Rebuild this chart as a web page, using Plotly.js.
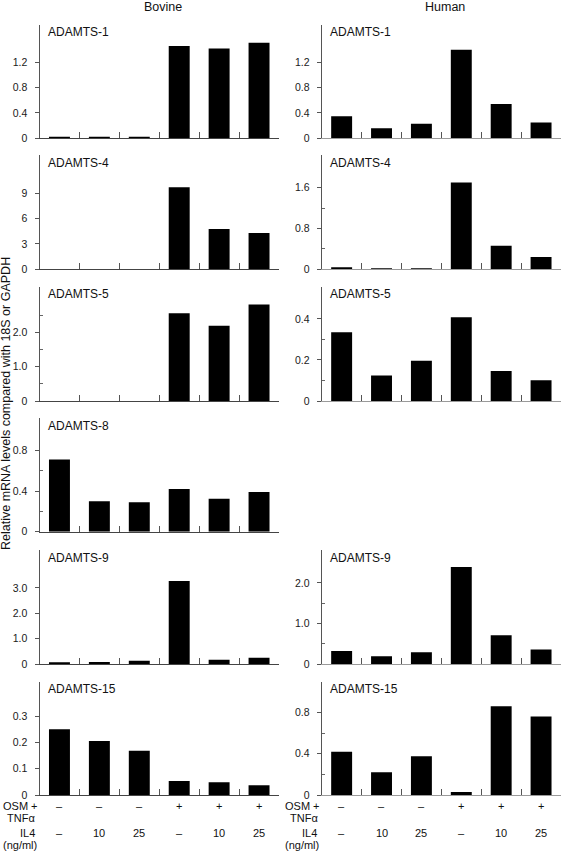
<!DOCTYPE html>
<html><head><meta charset="utf-8">
<script src="https://cdn.plot.ly/plotly-3.0.1.min.js"></script>
<style>html,body{margin:0;padding:0;background:#fff}#chart{width:562px;height:852px}</style>
</head><body><div id="chart"></div>
<script>
// ---------- data ----------
const categories = ['OSM-/IL4-', 'OSM-/IL4 10', 'OSM-/IL4 25', 'OSM+/IL4-', 'OSM+/IL4 10', 'OSM+/IL4 25'];
const osmTnfLabels = ['–', '–', '–', '+', '+', '+'];
const il4Labels = ['–', '10', '25', '–', '10', '25'];
const columnTitles = ['Bovine', 'Human'];
const genes = ['ADAMTS-1', 'ADAMTS-4', 'ADAMTS-5', 'ADAMTS-8', 'ADAMTS-9', 'ADAMTS-15'];

const bovineA1 = [0.025, 0.025, 0.025, 1.46, 1.42, 1.51];
const bovineA4 = [0, 0, 0, 9.7, 4.75, 4.3];
const bovineA5 = [0, 0, 0, 2.56, 2.19, 2.81];
const bovineA8 = [0.71, 0.30, 0.29, 0.42, 0.325, 0.39];
const bovineA9 = [0.066, 0.08, 0.13, 3.27, 0.17, 0.25];
const bovineA15 = [0.25, 0.205, 0.168, 0.053, 0.048, 0.037];

const humanA1 = [0.35, 0.16, 0.23, 1.40, 0.54, 0.25];
const humanA4 = [0.04, 0.02, 0.02, 1.70, 0.46, 0.24];
const humanA5 = [0.335, 0.124, 0.196, 0.408, 0.146, 0.101];
const humanA9 = [0.32, 0.19, 0.29, 2.39, 0.71, 0.36];
const humanA15 = [0.42, 0.22, 0.375, 0.03, 0.86, 0.76];

// y tick values / labels per panel
const ticksA1 = [0, 0.4, 0.8, 1.2], textA1 = ['0', '0.4', '0.8', '1.2'];
const ticksBA4 = [0, 3, 6, 9], textBA4 = ['0', '3', '6', '9'];
const ticksBA5 = [0, 1, 2], textBA5 = ['0', '1.0', '2.0'];
const ticksBA8 = [0, 0.4, 0.8], textBA8 = ['0', '0.4', '0.8'];
const ticksBA9 = [0, 1, 2, 3], textBA9 = ['0', '1.0', '2.0', '3.0'];
const ticksBA15 = [0, 0.1, 0.2, 0.3], textBA15 = ['0', '0.1', '0.2', '0.3'];
const ticksHA4 = [0, 0.8, 1.6], textHA4 = ['0', '0.8', '1.6'];
const ticksHA5 = [0, 0.2, 0.4], textHA5 = ['0', '0.2', '0.4'];
const ticksHA9 = [0, 1, 2], textHA9 = ['0', '1.0', '2.0'];
const ticksHA15 = [0, 0.4, 0.8], textHA15 = ['0', '0.4', '0.8'];

// ---------- layout geometry ----------
const W = 562, H = 852;
const colX = [[39.5, 279], [321.7, 561]];
const rowY = [[25, 138.3], [155, 269.3], [286.7, 401], [418.3, 531.7], [550, 664], [681.5, 795]];
const fx = px => px / W;
const fy = px => 1 - px / H;

const panels = [
  {col: 0, row: 0, y: bovineA1, top: 1.79, tv: ticksA1, tt: textA1, minor: []},
  {col: 0, row: 1, y: bovineA4, top: 13.5, tv: ticksBA4, tt: textBA4, minor: []},
  {col: 0, row: 2, y: bovineA5, top: 3.33, tv: ticksBA5, tt: textBA5, minor: [0.5, 1.5, 2.5]},
  {col: 0, row: 3, y: bovineA8, top: 1.115, tv: ticksBA8, tt: textBA8, minor: [0.2, 0.6]},
  {col: 0, row: 4, y: bovineA9, top: 4.49, tv: ticksBA9, tt: textBA9, minor: []},
  {col: 0, row: 5, y: bovineA15, top: 0.431, tv: ticksBA15, tt: textBA15, minor: []},
  {col: 1, row: 0, y: humanA1, top: 1.79, tv: ticksA1, tt: textA1, minor: []},
  {col: 1, row: 1, y: humanA4, top: 2.24, tv: ticksHA4, tt: textHA4, minor: [0.4, 1.2]},
  {col: 1, row: 2, y: humanA5, top: 0.557, tv: ticksHA5, tt: textHA5, minor: [0.1, 0.3]},
  {col: 1, row: 4, y: humanA9, top: 2.81, tv: ticksHA9, tt: textHA9, minor: [0.5, 1.5]},
  {col: 1, row: 5, y: humanA15, top: 1.10, tv: ticksHA15, tt: textHA15, minor: [0.2, 0.6]}
];

const FONT = 'Liberation Sans, Arial, Helvetica, sans-serif';
const data = [];
const layout = {
  width: W, height: H,
  margin: {l: 0, r: 0, t: 0, b: 0},
  paper_bgcolor: '#fff', plot_bgcolor: 'rgba(0,0,0,0)',
  showlegend: false, bargap: 0.475,
  font: {family: FONT, color: '#1a1a1a', size: 10},
  annotations: []
};

panels.forEach((p, i) => {
  const n = i + 1;
  const xa = 'x' + n, ya = 'y' + n;
  data.push({
    type: 'bar', x: categories, y: p.y, xaxis: xa, yaxis: ya,
    marker: {color: '#000', line: {width: 0}}, hoverinfo: 'skip'
  });
  const xLineColor = p.col === 0 ? '#444' : '#9a9a9a';
  layout['xaxis' + n] = {
    domain: [fx(colX[p.col][0]), fx(colX[p.col][1])],
    anchor: ya, type: 'category', range: [-0.5, 5.5],
    showline: true, linecolor: xLineColor, linewidth: 1,
    ticks: 'inside', tickson: 'boundaries', ticklen: 6, tickcolor: '#555', tickwidth: 1,
    showticklabels: false, showgrid: false, zeroline: false, fixedrange: true
  };
  const yax = {
    domain: [fy(rowY[p.row][1]), fy(rowY[p.row][0])],
    anchor: xa, range: [0, p.top],
    showline: true, linecolor: '#555', linewidth: 1,
    tickmode: 'array', tickvals: p.tv, ticktext: p.tt,
    ticks: 'outside', ticklen: 4, tickcolor: '#555', tickwidth: 1,
    ticklabelstandoff: 5,
    tickfont: {family: FONT, size: 10.5, color: '#1a1a1a'},
    showgrid: false, zeroline: false, fixedrange: true
  };
  if (p.minor.length) {
    yax.minor = {tickmode: 'array', tickvals: p.minor, ticks: 'inside', ticklen: 3, tickcolor: '#666', tickwidth: 1, showgrid: false};
  }
  layout['yaxis' + n] = yax;
  layout.annotations.push({
    text: genes[p.row], xref: 'paper', yref: 'paper',
    x: fx(colX[p.col][0] + 6), y: fy(rowY[p.row][0] + 7.5),
    xanchor: 'left', yanchor: 'middle', showarrow: false,
    font: {family: FONT, size: 12, color: '#111'}
  });
});

// column titles
[162.5, 445].forEach((cx, c) => {
  layout.annotations.push({
    text: columnTitles[c], xref: 'paper', yref: 'paper', x: fx(cx), y: fy(7),
    xanchor: 'center', yanchor: 'middle', showarrow: false,
    font: {family: FONT, size: 12.5, color: '#111'}
  });
});

// y axis title
layout.annotations.push({
  text: 'Relative mRNA levels compared with 18S or GAPDH', xref: 'paper', yref: 'paper',
  x: fx(6), y: fy(404), textangle: -90, xanchor: 'center', yanchor: 'middle', showarrow: false,
  font: {family: FONT, size: 12.5, color: '#111'}
});

// treatment condition labels under bottom panels
const bottomAxes = ['x6', 'x11'];
const rowLabelFont = {family: FONT, size: 11, color: '#111'};
[0, 282.4].forEach((off, c) => {
  layout.annotations.push({text: 'OSM +', xref: 'paper', yref: 'paper', x: fx(off + 0.5), y: fy(806), xanchor: 'left', yanchor: 'middle', showarrow: false, font: rowLabelFont});
  layout.annotations.push({text: 'TNFα', xref: 'paper', yref: 'paper', x: fx(off + 37.5), y: fy(818), xanchor: 'right', yanchor: 'middle', showarrow: false, font: rowLabelFont});
  layout.annotations.push({text: 'IL4', xref: 'paper', yref: 'paper', x: fx(off + 36.5), y: fy(833), xanchor: 'right', yanchor: 'middle', showarrow: false, font: rowLabelFont});
  layout.annotations.push({text: '(ng/ml)', xref: 'paper', yref: 'paper', x: fx(off + 0.5), y: fy(844.5), xanchor: 'left', yanchor: 'middle', showarrow: false, font: rowLabelFont});
  categories.forEach((cat, k) => {
    // on a category axis, annotation x is the category's serial index
    layout.annotations.push({text: osmTnfLabels[k], xref: bottomAxes[c], yref: 'paper', x: k, y: fy(806), xanchor: 'center', yanchor: 'middle', showarrow: false, font: rowLabelFont});
    layout.annotations.push({text: il4Labels[k], xref: bottomAxes[c], yref: 'paper', x: k, y: fy(833), xanchor: 'center', yanchor: 'middle', showarrow: false, font: rowLabelFont});
  });
});

Plotly.newPlot('chart', data, layout, {staticPlot: true, displayModeBar: false});
</script>
</body></html>
